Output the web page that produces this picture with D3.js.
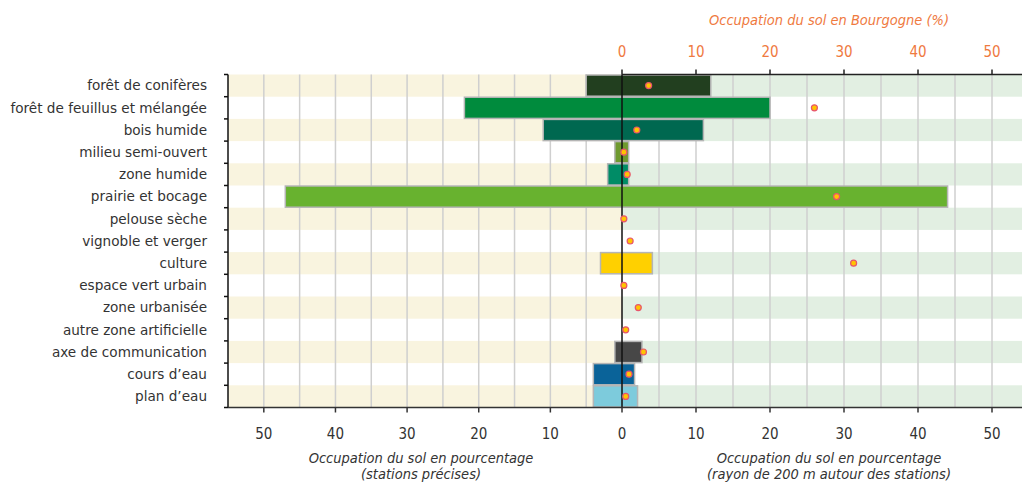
<!DOCTYPE html>
<html><head><meta charset="utf-8">
<script src="https://cdn.jsdelivr.net/npm/d3@7"></script>
<style>body{margin:0;background:#fff}svg{display:block}</style>
</head><body>
<script>
const categories = ["forêt de conifères","forêt de feuillus et mélangée","bois humide","milieu semi-ouvert","zone humide","prairie et bocage","pelouse sèche","vignoble et verger","culture","espace vert urbain","zone urbanisée","autre zone artificielle","axe de communication","cours d’eau","plan d’eau"];
const stations = [5, 22, 11, 1, 2, 47, 0, 0, 3, 0, 0, 0, 1, 4, 4];
const rayon200 = [12, 20, 11, 0.9, 0.9, 44, 0, 0, 4.1, 0, 0, 0, 2.7, 1.7, 2.1];
const bourgogne = [3.6, 26, 2, 0.25, 0.7, 29, 0.25, 1.1, 31.3, 0.25, 2.2, 0.5, 2.9, 0.95, 0.5];
const barColors = ["#223f1f","#008b3d","#006850","#6e9a2f","#008c66","#68b22f","#ccc","#ccc","#ffd000","#ccc","#ccc","#ccc","#474747","#0a6399","#7dcbdc"];
const tickVals = [0, 10, 20, 30, 40, 50];

(function () {
const W = 1022, H = 483;
const plotTop = 74.5, plotBottom = 407.5, leftEdge = 228, rightEdge = 1022;
const svg = d3.select("body").append("svg").attr("width", W).attr("height", H);

const y = d3.scaleBand().domain(categories).range([plotTop, plotBottom]);
const xL = d3.scaleLinear().domain([0, 55]).range([622, leftEdge]);
const xR = d3.scaleLinear().domain([0, 50]).range([622, 992]);
const rows = categories.map((c, i) => ({c, i, s: stations[i], r: rayon200[i], b: bourgogne[i], col: barColors[i]}));

const g = svg.append("g");
g.selectAll(".sl").data(rows.filter(d => d.i % 2 === 0)).join("rect")
  .attr("x", xL(55)).attr("width", xL(0) - xL(55))
  .attr("y", d => y(d.c)).attr("height", y.bandwidth()).attr("fill", "#f9f4df");
g.selectAll(".sr").data(rows.filter(d => d.i % 2 === 0)).join("rect")
  .attr("x", xR(0)).attr("width", rightEdge - xR(0))
  .attr("y", d => y(d.c)).attr("height", y.bandwidth()).attr("fill", "#e2efe2");

const gridL = d3.range(5, 55, 5), gridR = d3.range(5, 60, 5).filter(v => xR(v) < rightEdge);
g.selectAll(".gl").data(gridL).join("line")
  .attr("x1", d => xL(d)).attr("x2", d => xL(d)).attr("y1", plotTop).attr("y2", plotBottom)
  .attr("stroke", "#cfcfcf").attr("stroke-width", 1.5);
g.selectAll(".gr").data(gridR).join("line")
  .attr("x1", d => xR(d)).attr("x2", d => xR(d)).attr("y1", plotTop).attr("y2", plotBottom)
  .attr("stroke", "#cfcfcf").attr("stroke-width", 1.5);

g.selectAll(".bar").data(rows.filter(d => d.s > 0 || d.r > 0)).join("rect")
  .attr("x", d => xL(d.s)).attr("width", d => xR(d.r) - xL(d.s))
  .attr("y", d => y(d.c) + 0.5).attr("height", y.bandwidth() - 1)
  .attr("fill", d => d.col).attr("stroke", "#b5b5b5").attr("stroke-width", 1.5);

g.append("line").attr("x1", 622).attr("x2", 622).attr("y1", plotTop).attr("y2", plotBottom)
  .attr("stroke", "#111").attr("stroke-width", 1.5);

g.selectAll(".dot").data(rows).join("circle")
  .attr("cx", d => xR(d.b)).attr("cy", d => y(d.c) + y.bandwidth() / 2).attr("r", 3)
  .attr("fill", "#ffc400").attr("stroke", "#e8556b").attr("stroke-width", 1.2);

const ya = svg.append("g").attr("transform", `translate(${leftEdge},0)`);
ya.append("line").attr("y1", plotTop).attr("y2", plotBottom).attr("stroke", "#111").attr("stroke-width", 1.5);
const bounds = categories.map(c => y(c)).concat([plotBottom]);
ya.selectAll(".t").data(bounds).join("line")
  .attr("x1", -4).attr("x2", 0).attr("y1", d => d).attr("y2", d => d).attr("stroke", "#111").attr("stroke-width", 1.5);
svg.append("g").selectAll("text").data(rows).join("text")
  .attr("x", 207).attr("y", d => y(d.c) + y.bandwidth() / 2).attr("dy", "0.35em")
  .attr("text-anchor", "end").attr("fill", "#333").style("font", "13.6px 'DejaVu Sans'")
  .text(d => d.c);

const numFont = "15px 'Liberation Sans Narrow', 'DejaVu Sans Condensed', sans-serif";
svg.append("line").attr("x1", leftEdge).attr("x2", rightEdge).attr("y1", plotBottom).attr("y2", plotBottom)
  .attr("stroke", "#333").attr("stroke-width", 1.5);
const bt = [];
tickVals.forEach(v => { bt.push({v, x: xL(v)}); if (v > 0) bt.push({v, x: xR(v)}); });
const bg = svg.append("g");
bg.selectAll("line").data(bt).join("line")
  .attr("x1", d => d.x).attr("x2", d => d.x).attr("y1", plotBottom).attr("y2", plotBottom + 5)
  .attr("stroke", "#333").attr("stroke-width", 1.5);
bg.selectAll("text").data(bt).join("text")
  .attr("x", d => d.x).attr("y", 439).attr("text-anchor", "middle")
  .attr("fill", "#333").style("font", numFont).text(d => d.v);

const tg = svg.append("g");
tg.append("line").attr("x1", xR(0)).attr("x2", rightEdge).attr("y1", plotTop).attr("y2", plotTop)
  .attr("stroke", "#222").attr("stroke-width", 1.5);
tg.selectAll("line.tk").data(tickVals).join("line").attr("class", "tk")
  .attr("x1", d => xR(d)).attr("x2", d => xR(d)).attr("y1", plotTop - 5).attr("y2", plotTop)
  .attr("stroke", "#222").attr("stroke-width", 1.5);
tg.selectAll("text").data(tickVals).join("text")
  .attr("x", d => xR(d)).attr("y", 57).attr("text-anchor", "middle")
  .attr("fill", "#ef7a3f").style("font", numFont).text(d => d);

const titleFont = "italic 14.5px 'Liberation Sans Narrow', 'DejaVu Sans Condensed', sans-serif";
svg.append("text").attr("x", 829).attr("y", 25).attr("text-anchor", "middle")
  .attr("fill", "#ef7a3f").style("font", titleFont).text("Occupation du sol en Bourgogne (%)");
svg.append("text").attr("x", 421).attr("y", 463).attr("text-anchor", "middle")
  .attr("fill", "#333").style("font", titleFont).text("Occupation du sol en pourcentage");
svg.append("text").attr("x", 421).attr("y", 479).attr("text-anchor", "middle")
  .attr("fill", "#333").style("font", titleFont).text("(stations précises)");
svg.append("text").attr("x", 829).attr("y", 463).attr("text-anchor", "middle")
  .attr("fill", "#333").style("font", titleFont).text("Occupation du sol en pourcentage");
svg.append("text").attr("x", 829).attr("y", 479).attr("text-anchor", "middle")
  .attr("fill", "#333").style("font", titleFont).text("(rayon de 200 m autour des stations)");
})();
</script>
</body></html>
